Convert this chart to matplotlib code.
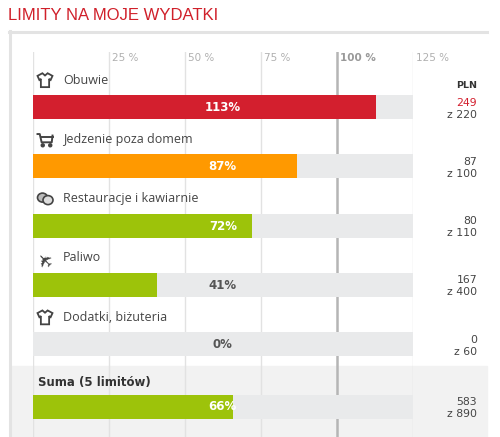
import matplotlib
matplotlib.use("Agg")
import matplotlib.pyplot as plt
from matplotlib.patches import Rectangle, Polygon, Ellipse
import numpy as np

# dane
kategorie = ["Obuwie", "Jedzenie poza domem", "Restauracje i kawiarnie", "Paliwo", "Dodatki, biżuteria"]
ikony = ["koszulka", "wozek", "maski", "samolot", "koszulka"]
wydane = [249, 87, 80, 167, 0]
limity = [220, 100, 110, 400, 60]
procent = [113, 87, 72, 41, 0]
suma_etykieta = "Suma (5 limitów)"
suma_wydane = 583
suma_limit = 890
suma_procent = 66
ticki = [25, 50, 75, 100, 125]
tytul = "LIMITY NA MOJE WYDATKI"

W, H = 500, 437
CZERWONY = "#d31f2e"
POMARANCZ = "#ff9900"
ZIELONY = "#9dc30a"
TOR = "#e9eaeb"
TEKST = "#444444"


def kolor(p):
    if p > 100:
        return CZERWONY
    if p >= 80:
        return POMARANCZ
    return ZIELONY


# uklad (piksele)
x0, x125 = 32.5, 413.0
wiersz0 = 107.0
krok = 59.3
y_wierszy = [wiersz0 + i * krok for i in range(len(kategorie))]
y_suma = 406.5
wys_paska = 24

fig = plt.figure(figsize=(W / 100, H / 100), dpi=100)
tlo = fig.add_axes([0, 0, 1, 1])
tlo.set_xlim(0, W)
tlo.set_ylim(H, 0)
tlo.axis("off")

# ramka panelu i tlo sumy
tlo.add_patch(Rectangle((10, 366), 477, H - 366, color="#f2f2f2", zorder=0))
tlo.plot([9, 487], [31.5, 31.5], color="#e3e3e3", lw=2.2, zorder=1)
tlo.plot([10, 10], [31, H], color="#e3e3e3", lw=2.2, zorder=1)
tlo.text(8, 15, tytul, color="#d0202a", fontsize=12, family="Liberation Sans",
         va="center", ha="left")

# os paskow
ax = fig.add_axes([x0 / W, 0, (x125 - x0) / W, 1 - 52 / H])
ax.patch.set_alpha(0)
ax.set_xlim(0, 125)
ax.set_ylim(H, 52)
ax.axis("off")

for t in [0] + ticki:
    if t == 100:
        ax.axvline(t, color="#b5b5b5", lw=1.8, zorder=1)
    else:
        ax.axvline(t, color="#e2e2e2", lw=1, zorder=1)

for t in ticki:
    gruby = t == 100
    ax.text(t + 1.0, 58, f"{t} %", fontsize=7.5, color="#999999" if gruby else "#b0b0b0",
            fontweight="bold" if gruby else "normal", va="center", ha="left")

wszystkie_y = y_wierszy + [y_suma]
wszystkie_p = procent + [suma_procent]
ax.barh(wszystkie_y, [125] * len(wszystkie_y), height=wys_paska, color=TOR, zorder=2)
ax.barh(wszystkie_y, wszystkie_p, height=wys_paska,
        color=[kolor(p) for p in wszystkie_p], zorder=3)

for y, p in zip(wszystkie_y, wszystkie_p):
    biały = p >= 62.5
    ax.text(62.5, y + 0.5, f"{p}%", fontsize=8.5, fontweight="bold",
            color="white" if biały else "#555555", ha="center", va="center", zorder=4)

for y, nazwa in zip(y_wierszy, kategorie):
    ax.text(10.0, y - 27, nazwa, fontsize=9, family="Open Sans", color=TEKST,
            ha="left", va="center", zorder=4)
ax.text(1.8, y_suma - 24, suma_etykieta, fontsize=8.5, fontweight="bold",
        color="#333333", ha="left", va="center", zorder=4)


# ikony
def koszulka(cx, cy):
    s = 7.5
    pts = np.array([[-0.35, -0.9], [-1.0, -0.55], [-0.75, 0.0], [-0.55, -0.15],
                    [-0.55, 0.95], [0.55, 0.95], [0.55, -0.15], [0.75, 0.0],
                    [1.0, -0.55], [0.35, -0.9], [0.0, -0.6]])
    tlo.add_patch(Polygon(np.c_[cx + pts[:, 0] * s, cy + pts[:, 1] * s], closed=True,
                          fill=False, ec=TEKST, lw=1.3, zorder=5))


def wozek(cx, cy):
    s = 7.5
    tlo.plot(cx + np.array([-1.0, -0.7, -0.45, 0.9, 1.0]) * s,
             cy + np.array([-0.7, -0.7, 0.4, 0.4, -0.5]) * s, color=TEKST, lw=1.4, zorder=5)
    tlo.plot(cx + np.array([-0.6, 1.0]) * s, cy + np.array([-0.3, -0.3]) * s,
             color=TEKST, lw=1.4, zorder=5)
    for kx in (-0.3, 0.7):
        tlo.add_patch(Ellipse((cx + kx * s, cy + 0.8 * s), 3, 3, color=TEKST, zorder=5))


def maski(cx, cy):
    tlo.add_patch(Ellipse((cx - 2.5, cy - 1), 10, 9, fc="#bbbbbb", ec=TEKST, lw=1.2, zorder=5))
    tlo.add_patch(Ellipse((cx + 3, cy + 1.5), 10, 9, fc="#dddddd", ec=TEKST,
                          lw=1.2, zorder=6))


def samolot(cx, cy):
    tlo.text(cx, cy, "\u2708", fontsize=14, color=TEKST, ha="center", va="center",
             rotation=135, family="DejaVu Sans", zorder=5)


rysuj = {"koszulka": koszulka, "wozek": wozek, "maski": maski, "samolot": samolot}
for y, ik in zip(y_wierszy, ikony):
    rysuj[ik](45, y - 27)

# kolumna PLN
xp = 477
tlo.text(xp, 85, "PLN", fontsize=6.8, fontweight="bold", color="#333333", ha="right", va="center")
for y, w, l in zip(wszystkie_y, wydane + [suma_wydane], limity + [suma_limit]):
    tlo.text(xp, y - 4.5, str(w), fontsize=7.8, color=CZERWONY if w > l else TEKST,
             ha="right", va="center", family="DejaVu Sans")
    tlo.text(xp, y + 7.5, f"z {l}", fontsize=7.8, color=TEKST,
             ha="right", va="center", family="DejaVu Sans")

fig.savefig("out.png", dpi=100)
